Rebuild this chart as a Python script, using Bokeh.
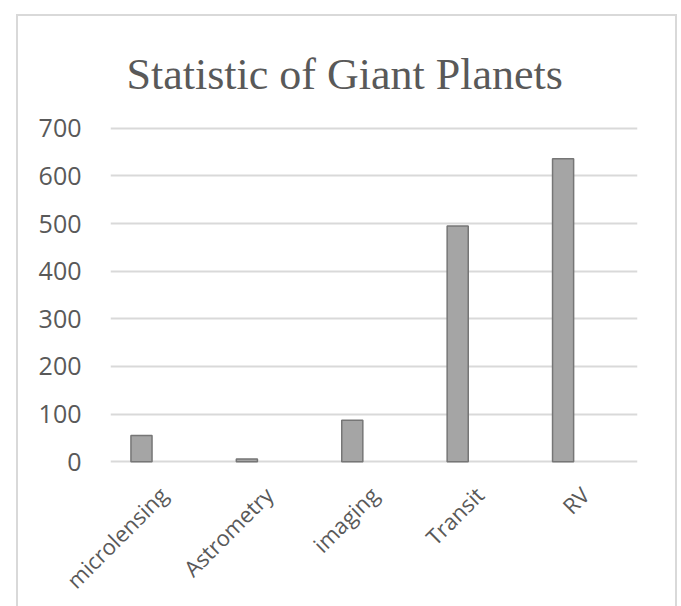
import math
from bokeh.plotting import figure
from bokeh.models import FactorRange, Range1d, FixedTicker, ColumnDataSource, Title
from bokeh.transform import dodge
from bokeh.embed import file_html
from bokeh.resources import INLINE

methods = ["microlensing", "Astrometry", "imaging", "Transit", "RV"]
counts = [55, 6, 87, 495, 636]
y_ticks = [0, 100, 200, 300, 400, 500, 600, 700]
title_text = "Statistic of Giant Planets"

source = ColumnDataSource(data=dict(method=methods, count=counts))

p = figure(
    width=661, height=592,
    x_range=FactorRange(*methods),
    y_range=Range1d(-10, 710),
    output_backend="svg", toolbar_location=None,
    min_border_left=92, min_border_right=42,
    min_border_top=107, min_border_bottom=142,
)
p.margin = (14, 0, 0, 16)
p.styles = {"border-left": "2px solid #d9d9d9",
            "border-top": "2px solid #d9d9d9",
            "border-right": "2px solid #d9d9d9"}

p.title = Title(text=title_text, align="left", vertical_align="top",
                text_font="Liberation Serif", text_font_size="44px",
                text_font_style="normal", text_color="#595959",
                text_line_height=1.0, standoff=46, offset=16)

p.vbar(x=dodge("method", -0.206, range=p.x_range), top="count", bottom=0,
       width=0.2, source=source, fill_color="#a5a5a5",
       line_color="#767676", line_width=1.5)

p.outline_line_color = None
p.background_fill_color = "white"
p.border_fill_color = "white"

p.xgrid.grid_line_color = None
p.ygrid.grid_line_color = "#d9d9d9"
p.ygrid.grid_line_width = 2
p.yaxis.ticker = FixedTicker(ticks=y_ticks)

for ax in (p.xaxis, p.yaxis):
    ax.axis_line_color = None
    ax.major_tick_line_color = None
    ax.minor_tick_line_color = None
    ax.major_label_text_color = "#595959"
    ax.major_label_text_font = "Open Sans"

p.yaxis.major_label_text_font_size = "25px"
p.yaxis.major_label_standoff = 23
p.xaxis.major_label_text_font_size = "22px"
p.xaxis.major_label_orientation = math.pi / 4
p.xaxis.major_label_standoff = 18

open("out.html", "w").write(file_html(p, INLINE))
